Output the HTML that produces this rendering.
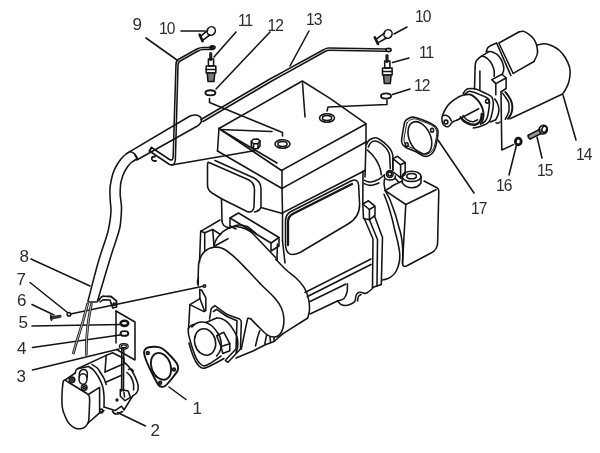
<!DOCTYPE html>
<html><head><meta charset="utf-8"><title>Engine ignition parts diagram</title>
<style>
html,body{margin:0;padding:0;background:#fff;}
body{width:600px;height:453px;overflow:hidden;}
svg{display:block;}
text{font-family:"Liberation Sans",sans-serif;font-size:17px;fill:#2a2a2a;}
</style></head><body>
<svg width="600" height="453" viewBox="0 0 600 453">
<rect width="600" height="453" fill="#fff"/>
<g id="labels" opacity="0.99">
<text transform="translate(132.5,30)">9</text>
<text transform="translate(159,34) scale(0.92,1)" letter-spacing="-1">10</text>
<text transform="translate(238,26) scale(0.92,1)" letter-spacing="-1">11</text>
<text transform="translate(267.5,31) scale(0.92,1)" letter-spacing="-1">12</text>
<text transform="translate(306,25) scale(0.92,1)" letter-spacing="-1">13</text>
<text transform="translate(415,22) scale(0.92,1)" letter-spacing="-1">10</text>
<text transform="translate(419,58) scale(0.92,1)" letter-spacing="-1">11</text>
<text transform="translate(414,91) scale(0.92,1)" letter-spacing="-1">12</text>
<text transform="translate(576,160) scale(0.92,1)" letter-spacing="-1">14</text>
<text transform="translate(537,176) scale(0.92,1)" letter-spacing="-1">15</text>
<text transform="translate(496,191) scale(0.92,1)" letter-spacing="-1">16</text>
<text transform="translate(471,214) scale(0.92,1)" letter-spacing="-1">17</text>
<text transform="translate(19.5,262)">8</text>
<text transform="translate(16.5,284.5)">7</text>
<text transform="translate(17.0,306)">6</text>
<text transform="translate(18.5,328)">5</text>
<text transform="translate(17.0,354)">4</text>
<text transform="translate(16.5,382)">3</text>
<text transform="translate(192.5,414)">1</text>
<text transform="translate(150.5,436)">2</text>
</g>
<g fill="none" stroke="#141414" stroke-width="1.55" stroke-linecap="round" stroke-linejoin="round">
<g id="leaders">
<path d="M146.0,38.0 L177.0,60.0"/>
<path d="M181.0,31.0 L205.0,31.0"/>
<path d="M236.0,32.0 L214.0,57.0"/>
<path d="M270.0,32.0 L216.0,89.0"/>
<path d="M309.0,31.0 L290.0,66.0"/>
<path d="M394.0,34.0 L407.0,27.0"/>
<path d="M392.5,62.5 L409.0,58.0"/>
<path d="M392.5,94.5 L410.0,89.0"/>
<path d="M563.0,95.0 L576.0,140.0"/>
<path d="M537.0,137.0 L542.0,158.0"/>
<path d="M516.5,145.0 L509.0,175.0"/>
<path d="M438.0,140.0 L474.0,193.0"/>
<path d="M31.0,259.0 L90.0,286.0"/>
<path d="M30.0,282.5 L67.5,312.5"/>
<path d="M32.0,304.5 L54.0,315.0"/>
<path d="M32.0,326.0 L122.0,324.5"/>
<path d="M32.5,347.5 L120.0,335.0"/>
<path d="M32.5,370.0 L119.0,349.0"/>
<path d="M169.0,387.0 L186.0,399.5"/>
<path d="M117.5,412.5 L145.5,426.0"/>
</g>
<g id="tube9">
<path d="M213,47.5 L203,47.5 Q200,47.5 197,49 L179,59 Q176,61 176,64 L173.2,156 Q173,161.5 169.5,159.5 L151.5,147.5"/>
<path d="M213,49.5 L203,49.5 Q201,49.5 198,51 L181,60.5 Q178,62 178,65 L175.4,159 Q175.2,166.5 169.5,164.5 L149.5,151"/>
<path d="M171.5,165 L255.5,150.5"/>
<path d="M155,156.5 Q151,156.5 152,159.5 Q152.8,161.5 156,160.8" stroke-width="1.8"/>
<path d="M151.5,147.5 L149.5,151" stroke-width="1.9"/>
</g>
<g id="cap10L">
<ellipse cx="211.2" cy="31" rx="4" ry="4.4" transform="rotate(30 211.2 31)"/>
<path d="M201.5,35.7 L207.6,30.3 M203.2,39.8 L209.8,35"/>
<path d="M199.6,34.6 L202.6,41.2" stroke-width="2.6"/>
</g>
<path d="M210.7,53.5 L210.7,59.5" stroke-width="3.2" stroke="#222"/>
<path d="M208.4,59.0 L213.6,59.0 L213.6,66.0 L208.4,66.0 Z"/>
<path d="M206.2,66.0 L215.8,66.0 L215.8,73.0 L206.2,73.0 Z"/>
<path d="M206.2,69.5 L215.8,69.5"/>
<path d="M207.2,73.0 L214.8,73.0 L214.0,81.5 L208.0,81.5 Z" fill="#777"/>
<ellipse cx="210.4" cy="92.8" rx="5" ry="2.6" stroke-width="1.9"/>
<path d="M209.5,98.5 L209.5,102.5 L282.5,132.5 L282.5,136"/>
<g id="rod13">
<path d="M201,119.5 L270,79 L324,49.5 Q326,48 329,48 L386,49"/>
<path d="M203,121.5 L271,81.5 L325,51.5 Q327,50.2 330,50.2 L386,51.2"/>
<ellipse cx="388.5" cy="50" rx="2.6" ry="1.6" stroke-width="1.6"/>
<ellipse cx="212.5" cy="47.5" rx="2.4" ry="1.5" stroke-width="1.8"/>
</g>
<g id="cap10R">
<ellipse cx="388" cy="34" rx="4" ry="4.4" transform="rotate(30 388 34)"/>
<path d="M377,38.6 L384.4,33.2 M378.6,42.4 L386.6,38"/>
<path d="M374.8,37.4 L378,44" stroke-width="2.6"/>
</g>
<path d="M387.0,55.5 L387.0,61.5" stroke-width="3.2" stroke="#222"/>
<path d="M384.7,61.0 L389.9,61.0 L389.9,68.0 L384.7,68.0 Z"/>
<path d="M382.5,68.0 L392.1,68.0 L392.1,75.0 L382.5,75.0 Z"/>
<path d="M382.5,71.5 L392.1,71.5"/>
<path d="M383.5,75.0 L391.1,75.0 L390.3,83.5 L384.3,83.5 Z" fill="#777"/>
<ellipse cx="386" cy="96" rx="5" ry="2.6" stroke-width="1.9"/>
<path d="M387,100 L387,104.5 L328,107 L327,111"/>
<g id="hose">
<path d="M129.8,151.6 L190,116 Q198,113.3 201.3,118.3 Q202.5,123 197,126.3 L137.7,159.5"/>
<path d="M129.8,151.6 Q135.5,152.5 137.7,159.5"/>
<path d="M135,155.5 Q137.5,157.5 136.5,160"/>
<path d="M129.8,151.6 C129.1,152.1 126.9,153.3 125.5,154.5 C124.1,155.7 122.5,157.2 121.2,158.8 C119.9,160.4 118.6,162.2 117.5,164.0 C116.4,165.8 115.4,167.6 114.6,169.4 C113.8,171.2 113.0,173.2 112.5,175.0 C112.0,176.8 111.7,177.8 111.3,180.0 C110.9,182.2 110.2,184.7 110.0,188.0 C109.8,191.3 110.0,196.2 110.2,200.0 C110.4,203.8 111.1,207.0 111.0,211.0 C110.9,215.0 110.2,220.0 109.5,224.0 C108.8,228.0 108.9,228.5 107.0,235.0 C105.1,241.5 101.2,252.0 98.0,263.0 C94.8,274.0 89.7,294.7 88.0,301.0"/>
<path d="M135.8,159.5 C135.2,159.9 133.2,161.0 132.0,162.0 C130.8,163.0 129.6,164.2 128.5,165.5 C127.4,166.8 126.4,168.5 125.5,170.0 C124.6,171.5 123.9,173.0 123.2,174.7 C122.5,176.4 122.0,178.2 121.5,180.0 C121.0,181.8 120.7,182.8 120.5,185.3 C120.3,187.8 120.0,191.4 120.2,195.0 C120.4,198.6 121.4,202.8 121.5,207.0 C121.6,211.2 121.2,216.0 120.8,220.0 C120.4,224.0 120.8,224.5 119.0,231.0 C117.2,237.5 113.6,247.3 110.0,259.0 C106.4,270.7 99.6,294.0 97.5,301.0"/>
<path d="M88,302 L97,302"/>
</g>
<g id="engine">
<path d="M219.0,128.5 L302.3,81.0 L330.0,98.3 L366.3,123.8 L281.5,170.5 Z"/>
<path d="M302.5,83 L305,117"/>
<path d="M220,129.5 L272,131.5"/>
<path d="M222,130.5 L277,163"/>
<path d="M219,128 L217.5,151"/>
<path d="M282,170 L282,188.5"/>
<path d="M366,125 L366,142"/>
<path d="M217.5,151 L282,188.5 L366,142"/>
<path d="M251.3,141.5 L253.3,139.2 L258.0,139.0 L260.0,141.0 L260.0,146.0 L258.0,148.5 L253.5,148.7 L251.3,146.5 Z"/>
<path d="M251.3,141.5 L253.5,143.7 L258,143.5 L260,141 M253.5,143.7 L253.5,148.7 M258,143.5 L258,148.5"/>
<ellipse cx="282.5" cy="144" rx="7.5" ry="4.3"/><ellipse cx="282.5" cy="144" rx="4.6" ry="2.5"/>
<ellipse cx="327" cy="118" rx="7.5" ry="4.3"/><ellipse cx="327" cy="118" rx="4.6" ry="2.5"/>
<path d="M209,162.5 L249,180 Q254.5,183 254.5,190 L254,207 Q253,213.5 247,211.5 L222,199 L212,193 Q207.5,190 207.5,185 L207.5,166 Q207.5,161.5 209,162.5 Z"/>
<path d="M215,160.5 L254,178 Q261,181.5 261,189 L261,207 Q260,211 254.5,212"/>
<path d="M221.5,199 L222,221"/>
<path d="M282,188.5 L282.5,213 L282.5,241"/>
<path d="M282.5,213 L365,170.5"/>
<path d="M261,207.5 L282.5,213.5"/>
<path d="M366,142 L365,177"/>
<path d="M285.5,221 Q285.5,214.5 291,211.5 L351,181 Q358,178 358.6,185 L359.6,204 Q360,217 348,224 L300,252.5 Q286.5,259 285.5,245 Z"/>
<path d="M288,222 Q288,216.5 293,213.8 L352,184" stroke-width="2.3"/>
<path d="M288,222 L288,245" stroke-width="2.3"/>
<path d="M230.0,218.0 L238.5,213.0 L279.0,237.5 L271.0,243.0 Z"/>
<path d="M230,218 L230,226 M271,243 L271,251 L279,246 L279,237.5"/>
<path d="M230,226 L236,229"/>
<path d="M200.7,231.3 L220,220"/>
<path d="M200.7,231.3 L199.5,262"/>
<path d="M200.7,231.3 L204.7,232.7 L212.7,229.5 L220.7,234.7"/>
<path d="M204.7,232.7 L204.7,250.5 M212.7,229.5 L214,246.5"/>
<path d="M222,221 Q222.5,225.5 226,226.8 L229.5,228"/>
<path d="M214.0,245.5 C214.4,244.4 215.1,241.1 216.7,238.7 C218.2,236.3 220.6,233.3 223.3,231.3 C226.0,229.3 229.8,227.4 232.7,226.7 C235.6,226.0 237.8,226.5 240.7,227.3 C243.6,228.1 247.1,229.4 250.0,231.3 C252.9,233.2 256.7,237.7 258.0,239.0 L276,258 "/>
<path d="M229.5,228.0 C230.9,227.5 235.1,225.2 238.0,225.0 C240.9,224.8 244.0,225.1 247.0,226.5 C250.0,227.9 254.5,232.3 256.0,233.5"/>
<path d="M276.0,259.5 C277.7,261.2 282.9,266.9 286.3,270.0 C289.7,273.1 293.3,275.3 296.3,278.3 C299.3,281.3 302.4,284.6 304.5,288.2 C306.6,291.8 307.9,296.2 308.7,299.8 C309.5,303.4 309.6,306.7 309.5,309.7 C309.4,312.7 308.1,316.6 307.8,318.0 L283,333.7"/>
<path d="M277.5,244 L277,257 Q278,261.5 276,259.5"/>
<path d="M198.3,285.0 C198.3,282.8 198.1,276.1 198.3,272.0 C198.5,267.9 198.2,264.1 199.3,260.7 C200.4,257.2 202.2,253.5 204.7,251.3 C207.1,249.1 210.9,247.7 214.0,247.3 C217.1,246.9 220.0,247.1 223.3,248.7 C226.6,250.3 230.0,253.1 234.0,256.7 C238.0,260.2 242.8,265.3 247.4,270.0 C252.0,274.7 256.9,280.3 261.5,285.0 C266.1,289.7 271.4,294.2 274.7,298.0 C278.0,301.8 279.9,304.7 281.4,308.0 C282.9,311.3 283.5,314.7 283.8,318.0 C284.1,321.3 283.7,325.2 283.0,328.0 C282.3,330.8 281.1,333.1 279.7,334.6 C278.3,336.1 276.6,336.9 274.7,337.0 C272.8,337.1 270.5,336.9 268.0,335.4 C265.5,333.9 262.7,330.8 259.8,328.0 C256.9,325.2 252.2,320.3 250.7,318.8"/>
<path d="M214.7,246 L228,238.7"/>
<circle cx="204.5" cy="286" r="1.2" stroke-width="1.4"/>
<path d="M203,286.3 L70.5,314"/>
<path d="M198.3,285 Q196.5,282 198.5,278"/>
<path d="M199.7,289.5 L199.9,298.6 L189.9,304.6 L188.6,328"/>
<path d="M199.7,289.5 L201.5,290 L205.8,297.7 L205.8,310.6 L203.9,311.6 L189.9,304.6"/>
<path d="M199.9,298.6 L204.5,311"/>
<ellipse cx="205.1" cy="342" rx="10.4" ry="13.4" transform="rotate(-14 205.1 342)"/>
<path d="M191.8,327.0 C192.5,326.4 194.5,324.3 196.0,323.5 C197.5,322.7 199.3,322.2 201.0,322.0 C202.7,321.8 204.2,321.8 206.0,322.5 C207.8,323.2 209.9,324.1 212.0,326.0 C214.1,327.9 216.9,331.5 218.4,334.0 C219.9,336.5 220.6,338.8 221.0,341.0 C221.4,343.2 221.2,345.5 221.0,347.3 C220.8,349.1 220.2,350.6 219.5,352.0 C218.8,353.4 217.1,355.3 216.6,356.0"/>
<path d="M206,322.5 L216.6,318"/>
<path d="M216.6,318.0 C217.3,318.1 219.5,318.1 221.0,318.5 C222.5,318.9 223.9,319.6 225.4,320.7 C226.9,321.8 228.5,323.2 230.0,325.0 C231.5,326.8 233.1,329.4 234.3,331.4 C235.5,333.4 236.4,335.2 237.0,337.0 C237.6,338.8 237.7,340.2 237.8,342.0 C237.9,343.8 237.8,346.2 237.5,348.0 C237.2,349.8 236.2,351.8 236.0,352.6"/>
<path d="M188.3,328.7 C188.7,328.2 189.6,326.7 190.5,326.0 C191.4,325.3 193.1,324.6 193.6,324.3"/>
<path d="M188.3,328.7 C188.3,329.3 188.3,332.7 188.5,334.0 C188.7,335.3 189.5,338.1 190.0,340.0 C190.5,341.9 192.2,347.7 193.0,350.0 C193.8,352.3 196.0,357.9 197.0,359.6 C198.0,361.4 200.7,364.3 201.6,365.0 C202.5,365.7 204.0,366.0 205.0,365.8 C206.0,365.6 208.1,364.6 210.0,363.5 C211.9,362.4 219.7,356.9 221.0,356.0"/>
<path d="M189.0,343.0 C189.3,344.2 191.2,350.8 192.0,353.0 C192.8,355.2 195.0,360.3 196.0,362.0 C197.0,363.7 199.6,366.6 200.7,367.3 C201.8,368.0 203.7,368.3 205.0,368.0 C206.3,367.7 209.8,366.1 212.0,365.0 C214.2,363.9 222.6,359.3 224.0,358.5"/>
<path d="M216.6,335.8 L223.7,332.2 L229.8,343.7 L229.8,350.8 L222.8,353.5 L221.0,346.4 Z"/>
<path d="M221,346.4 L229.8,343.7"/>
<path d="M209.5,319 L211.3,308.4 L214.8,305.7 L227.2,314.6 L239.6,319 Q241.5,320.5 241.3,322.5 L240.5,349 L228,362.3 L225.4,360.5"/>
<path d="M213.5,311.5 L216.6,309.3 L227,316.5 L237,320.7 L236,349 L226,359.5"/>
<path d="M250.7,318.8 C250.3,318.7 249.0,318.2 248.5,318.3 C248.0,318.4 248.1,317.4 247.5,319.5 C246.9,321.6 246.0,326.1 245.0,331.0 C244.0,335.9 241.9,346.0 241.3,349.0"/>
<path d="M259.8,330.5 Q257,338 255.5,346"/>
<path d="M266.5,335.4 L264.8,344 M270,337 L270.5,342.5 M274,337.5 L274,341"/>
<path d="M236,358 L253,351 L264.8,345 L274,341.5 L283,333.7"/>
<path d="M305,292.5 L371,259"/>
<path d="M307.5,296.5 L371,264.5" stroke-width="1.7"/>
<path d="M310,301.5 L346,284"/>
<path d="M310,314 L337.5,301"/>
<path d="M347.5,284.0 C347.4,285.3 347.6,289.6 347.0,292.0 C346.4,294.4 345.6,297.0 344.0,298.5 C342.4,300.0 338.6,300.6 337.5,301.0"/>
<path d="M337.5,301.0 C337.9,301.4 340.0,304.0 341.0,304.5 C342.0,305.0 344.7,305.6 346.0,305.5 C347.3,305.4 350.9,304.0 352.0,303.5 C353.1,303.0 354.5,301.9 355.0,301.0 C355.5,300.1 355.6,296.5 356.0,295.5 C356.4,294.5 357.8,292.9 358.5,292.5 C359.2,292.1 361.2,292.4 362.0,292.5 C362.8,292.6 364.4,293.5 365.0,293.5 C365.6,293.5 366.6,293.1 367.5,292.5 C368.4,291.9 371.9,289.0 372.5,288.5"/>
<path d="M357.5,301.0 C357.7,300.2 357.9,297.6 358.5,296.5 C359.1,295.4 360.6,294.8 361.0,294.5"/>
<path d="M362.8,204.0 L369.4,209.5 L369.4,219.8 L363.5,218.4 Z"/>
<path d="M362.8,204 L368.5,200.8 L375,206.2 L369.4,209.5 M375,206.2 L375,215.3 L369.4,219.8"/>
<path d="M364.5,219 L373,239 L372.5,287.5"/>
<path d="M374.5,216 L382.5,237.5 L381.3,284.5"/>
<path d="M369.5,220 L377.5,239.5 L377,286"/>
<path d="M372.5,287.5 L381.3,284.5"/>
<path d="M363,171 L362.8,204"/>
<path d="M385.2,190.6 C385.8,191.8 387.8,194.9 389.0,197.5 C390.2,200.1 391.4,203.3 392.5,206.4 C393.6,209.5 394.8,212.8 395.8,216.0 C396.8,219.2 397.7,222.8 398.5,225.8 C399.3,228.8 400.2,231.2 400.8,234.0 C401.4,236.8 401.9,239.6 402.2,242.8 C402.5,246.0 402.8,249.6 402.8,253.0 C402.9,256.4 402.6,261.7 402.5,263.4"/>
<path d="M384.0,194.3 C384.5,195.6 386.0,199.2 387.0,202.0 C388.0,204.8 389.1,208.1 390.0,211.3 C390.9,214.5 391.9,217.8 392.7,221.0 C393.5,224.2 394.1,227.4 394.9,230.7 C395.7,234.0 396.7,237.4 397.5,241.0 C398.3,244.6 399.3,249.0 399.6,252.5 C399.9,256.0 399.9,258.8 399.3,262.0 C398.7,265.2 397.3,269.1 396.0,271.5 C394.7,273.9 393.1,275.2 391.5,276.5 C389.9,277.8 387.9,278.4 386.4,279.0 C384.9,279.6 383.1,279.8 382.5,280.0"/>
<path d="M385.2,190.6 L405.8,204.5 L436.0,189.8"/>
<path d="M405.8,204.5 L402.5,263.4 Q402.8,267.5 406.5,266 L431,253 Q437.3,250 437.6,243 L438.8,191.5 Q438.8,188.5 436,187.3 L424,181"/>
<path d="M385.2,190.6 L392,186.5"/>
<ellipse cx="411.6" cy="176.4" rx="9.5" ry="5.2"/><ellipse cx="411.6" cy="176.2" rx="4.8" ry="2.6"/>
<path d="M402.1,176.5 L402.3,183 Q406,187.8 412,187.8 Q418,187.5 421,183 L421.1,176.5"/>
<path d="M366.6,144.5 C366.8,144.0 367.4,142.4 368.0,141.5 C368.6,140.6 369.3,139.9 370.5,139.3 C371.7,138.7 373.7,137.8 375.1,137.7 C376.5,137.6 377.7,138.3 379.0,139.0 C380.3,139.7 381.6,140.6 382.8,141.6 C384.1,142.6 385.3,143.7 386.5,144.8 C387.7,146.0 388.9,147.3 389.8,148.5 C390.7,149.7 391.3,150.8 391.8,152.0 C392.3,153.2 392.7,154.9 392.9,155.5 L392.9,170"/>
<path d="M368.3,147.0 C368.8,146.2 369.9,143.5 371.0,142.5 C372.1,141.5 373.4,140.9 375.0,141.0 C376.6,141.1 378.9,142.2 380.5,143.1 C382.1,144.0 383.3,145.3 384.5,146.5 C385.7,147.7 386.7,148.8 387.5,150.1 C388.3,151.3 388.9,152.7 389.3,154.0 C389.7,155.3 389.7,157.2 389.8,157.8 L390.3,168.5"/>
<path d="M367.4,150.1 C367.9,150.6 369.5,152.0 370.5,153.0 C371.5,154.0 372.5,155.1 373.5,156.3 C374.5,157.6 375.6,159.0 376.5,160.5 C377.4,162.0 378.3,163.9 379.0,165.5 C379.7,167.1 380.1,168.4 380.5,170.0 C380.9,171.6 381.2,174.0 381.3,174.8"/>
<path d="M364.3,180.2 C364.9,180.5 366.7,181.5 368.0,181.8 C369.3,182.1 370.7,182.0 372.0,181.8 C373.3,181.6 374.7,181.0 376.0,180.5 C377.3,180.0 378.3,179.6 379.7,178.7 C381.1,177.8 383.6,175.5 384.4,174.8"/>
<path d="M364.0,183.5 C364.8,183.8 367.3,185.1 369.0,185.3 C370.7,185.5 372.3,185.2 374.0,184.8 C375.7,184.4 378.2,183.3 379.0,183.0"/>
<path d="M392.9,158.6 L397.5,156.3 L405.2,162.5 L400.6,164.8 Z"/>
<path d="M392.9,158.6 L392.9,170.5 M400.6,164.8 L400.6,177.9 L405.2,174.5 L405.2,162.5"/>
<path d="M394,172.5 L400.6,177.9"/>
<circle cx="389.8" cy="174" r="1.9"/><circle cx="389.8" cy="174" r="3.4"/>
<path d="M384.3,175.5 C384.4,176.0 384.1,177.8 385.0,178.5 C385.9,179.2 387.9,179.9 389.5,180.0 C391.1,180.1 393.5,179.5 394.5,178.8 C395.5,178.1 395.2,176.5 395.3,176.0"/>
<path d="M384.4,179.5 Q383.3,184 385,189.5 M395.3,178.5 L399,182.5 L392,186"/>
<path d="M399,182.5 L402.5,181"/>
<path d="M282.5,241 L285,263"/>
</g>
<g id="flange17">
<path d="M404.9,121.6 C405.7,119.8 407.7,118.8 408.9,118.2 C410.1,117.6 412.5,117.0 414.2,117.2 C415.9,117.4 419.3,118.8 421.5,119.6 C423.7,120.4 428.9,122.5 430.8,123.5 C432.7,124.5 435.0,125.8 436.0,126.9 C437.0,128.0 437.8,130.0 438.0,131.5 C438.2,133.0 437.7,136.0 437.4,138.1 C437.1,140.2 436.0,145.5 435.4,147.4 C434.8,149.3 433.7,151.6 432.7,152.7 C431.7,153.8 429.3,155.6 428.1,156.0 C426.9,156.4 425.3,156.6 423.5,156.0 C421.7,155.4 417.3,152.5 414.9,151.4 C412.5,150.3 407.3,148.4 405.6,147.4 C403.9,146.4 402.8,145.0 402.3,144.0 C401.8,143.0 401.5,141.7 401.6,140.0 C401.7,138.3 402.5,134.0 402.9,131.5 C403.3,129.0 404.1,123.4 404.9,121.6 Z"/>
<path d="M407.0,122.9 C407.7,121.3 409.5,120.3 410.6,119.8 C411.7,119.3 413.9,118.7 415.4,118.9 C416.9,119.1 419.9,120.3 421.9,121.1 C423.9,121.8 428.6,123.7 430.3,124.6 C432.1,125.5 434.1,126.7 435.0,127.6 C435.9,128.6 436.6,130.4 436.8,131.8 C437.0,133.1 436.6,135.8 436.2,137.7 C435.9,139.6 435.0,144.3 434.4,146.1 C433.9,147.8 432.9,149.8 432.0,150.9 C431.1,151.9 429.0,153.4 427.9,153.8 C426.8,154.2 425.3,154.4 423.7,153.8 C422.2,153.3 418.1,150.7 416.0,149.7 C413.9,148.7 409.1,147.0 407.6,146.1 C406.1,145.2 405.1,143.9 404.7,143.0 C404.2,142.1 404.0,140.9 404.0,139.4 C404.1,137.9 404.8,134.0 405.2,131.8 C405.6,129.6 406.3,124.5 407.0,122.9 Z" stroke-width="1.0"/>
<ellipse cx="419.9" cy="137.8" rx="10.6" ry="17" transform="rotate(-24 419.9 137.8)"/>
<ellipse cx="432.1" cy="130.2" rx="1.5" ry="2"/><ellipse cx="406.7" cy="144.7" rx="1.5" ry="2"/>
</g>
<g id="starter">
<path d="M496.6,43.0 C495.7,43.4 492.5,44.7 491.0,45.5 C489.5,46.3 488.6,46.8 487.8,47.8 C487.0,48.8 486.6,51.1 486.3,51.8"/>
<path d="M496.6,43 L510.9,75.6"/>
<path d="M499,43.5 L513.2,73.5"/>
<path d="M498.9,43 L518.8,32 "/>
<path d="M518.8,32.0 C519.5,31.9 521.5,31.1 523.0,31.3 C524.5,31.5 525.8,32.2 527.5,33.3 C529.2,34.4 531.5,36.2 533.0,38.0 C534.5,39.8 535.5,41.5 536.3,44.0 C537.0,46.5 537.9,50.1 537.5,53.0 C537.1,55.9 534.6,60.1 534.0,61.5"/>
<path d="M534,61.5 L513.2,73.3"/>
<path d="M537.0,45.0 C538.3,44.8 542.4,43.6 545.0,43.8 C547.6,44.0 550.0,44.8 552.5,46.0 C555.0,47.2 557.8,49.0 560.0,51.0 C562.2,53.0 563.9,55.3 565.5,58.0 C567.1,60.7 568.8,64.2 569.5,67.0 C570.2,69.8 570.2,72.3 570.0,75.0 C569.8,77.7 569.2,80.6 568.5,83.0 C567.8,85.4 566.5,87.7 565.5,89.5 C564.5,91.3 563.0,93.2 562.5,94.0"/>
<path d="M562.5,94 L510,118.8"/>
<path d="M505.3,92.0 C505.9,92.8 507.7,95.0 508.7,96.5 C509.7,98.0 510.7,99.7 511.3,101.3 C511.9,102.9 512.2,104.4 512.3,106.0 C512.4,107.6 512.3,109.2 512.0,110.7 C511.7,112.2 511.2,113.7 510.5,115.0 C509.8,116.3 508.4,118.1 508.0,118.7" stroke-width="2"/>
<path d="M502.7,93.3 C503.2,94.1 505.0,96.4 506.0,98.0 C507.0,99.6 508.2,101.0 508.7,102.7 C509.2,104.4 509.0,106.5 509.0,108.0 C509.0,109.5 509.3,110.1 508.7,112.0 C508.1,113.9 505.9,118.1 505.3,119.3"/>
<path d="M494.7,98.8 C495.2,99.6 496.8,101.8 497.5,103.5 C498.2,105.2 498.8,107.4 498.9,109.3 C499.0,111.2 498.5,113.3 498.0,115.0 C497.5,116.7 496.1,118.9 495.7,119.7"/>
<path d="M495.7,119.7 L490.5,122"/>
<path d="M475.1,67.7 C475.2,66.9 475.2,64.2 475.5,63.0 C475.8,61.8 475.8,61.6 476.7,60.5 C477.6,59.4 479.4,57.2 480.7,56.6 C482.0,56.0 483.2,56.3 484.5,56.8 C485.8,57.3 487.4,58.6 488.6,59.7 C489.8,60.8 490.7,62.2 491.5,63.5 C492.3,64.8 492.9,66.4 493.4,67.7 C493.8,69.0 494.1,70.0 494.2,71.5 C494.3,73.0 494.2,75.7 494.2,76.5"/>
<path d="M480.7,56.6 L488.6,51.8"/>
<path d="M486.3,51.8 C486.9,51.8 488.8,51.5 490.0,51.6 C491.2,51.7 492.3,52.0 493.5,52.5 C494.7,53.0 496.3,53.7 497.4,54.6 C498.5,55.5 499.2,56.6 500.0,57.8 C500.8,58.9 501.5,60.1 502.1,61.5 C502.7,62.9 503.2,64.6 503.5,66.0 C503.8,67.4 503.9,68.6 503.7,70.0 C503.5,71.4 502.5,73.6 502.3,74.3"/>
<path d="M475.1,67.7 L474.5,89"/>
<path d="M479.9,70.9 L479.9,89.5"/>
<path d="M491.8,79.6 L502.1,74.3 L506.1,78.0 L495.8,83.6 Z"/>
<path d="M495.8,83.6 L495.8,94.7 M506.1,78 L506.1,88.5 L501,92"/>
<path d="M501,92 L501.8,150 L513.5,144.6"/>
<path d="M463.3,93.3 C463.6,92.9 464.7,91.1 465.3,90.5 C465.9,89.9 466.7,88.9 468.0,88.7 C469.3,88.5 473.1,88.4 474.7,88.7 C476.3,89.0 478.6,90.1 480.0,90.7 C481.4,91.3 484.1,92.7 485.3,93.3 C486.5,93.9 488.1,94.5 489.0,95.0 C489.9,95.5 491.4,96.3 492.0,97.3 C492.6,98.3 493.2,101.3 493.3,102.7 C493.4,104.1 493.2,106.6 493.0,108.0 C492.8,109.4 492.3,112.0 492.0,113.3 C491.7,114.6 491.4,116.4 491.0,117.5 C490.6,118.6 489.9,120.5 489.3,121.3 C488.7,122.1 487.3,123.3 486.5,123.8 C485.7,124.3 484.4,124.9 483.3,125.3 C482.2,125.7 479.8,126.6 478.5,127.0 C477.2,127.4 474.0,127.9 473.3,128.0"/>
<path d="M464.7,94.7 C465.0,94.4 466.3,92.8 467.0,92.3 C467.7,91.8 468.8,91.2 470.0,91.3 C471.2,91.4 474.5,92.5 476.0,93.0 C477.5,93.5 480.0,94.8 481.3,95.3 C482.6,95.8 484.5,96.5 485.5,97.0 C486.5,97.5 488.2,98.6 488.7,99.3 C489.2,100.0 489.4,101.2 489.5,102.0 C489.6,102.8 489.4,104.0 489.3,105.3 C489.2,106.6 488.8,109.9 488.5,111.5 C488.2,113.1 487.7,116.1 487.3,117.3 C486.9,118.5 486.1,120.0 485.5,120.8 C484.9,121.6 483.1,123.0 482.7,123.3"/>
<path d="M466.0,94.5 C466.8,94.5 469.2,94.2 470.7,94.7 C472.2,95.2 473.7,96.4 475.0,97.5 C476.3,98.6 477.7,100.0 478.7,101.3 C479.7,102.5 480.3,103.7 481.0,105.0 C481.7,106.3 482.3,107.9 482.7,109.3 C483.1,110.7 483.4,112.2 483.5,113.5 C483.6,114.8 483.5,116.0 483.3,117.3 C483.1,118.5 482.7,119.9 482.3,121.0 C481.9,122.1 481.0,123.5 480.7,124.0" stroke-width="1.9"/>
<path d="M463.3,93.3 L464.7,94.7"/>
<circle cx="487.3" cy="101.3" r="1.8"/>
<path d="M460.7,117.3 C461.1,117.8 462.3,119.6 463.3,120.5 C464.3,121.4 465.5,122.1 466.7,122.7 C467.9,123.3 469.2,124.0 470.5,124.3 C471.8,124.6 473.5,124.8 474.7,124.7 C475.9,124.6 476.8,124.1 477.7,123.5 C478.6,122.9 479.4,122.2 480.0,121.3 C480.6,120.4 481.0,119.2 481.3,118.0 C481.6,116.8 481.7,114.7 481.8,114.0" stroke-width="2.4"/>
<path d="M463.0,115.5 C463.5,116.1 464.8,118.0 466.0,119.0 C467.2,120.0 468.7,120.9 470.0,121.3 C471.3,121.7 472.8,121.8 474.0,121.5 C475.2,121.2 476.9,120.1 477.5,119.8"/>
<path d="M464.7,94.7 C463.9,95.0 461.4,95.6 460.0,96.3 C458.6,97.0 457.4,97.8 456.0,98.7 C454.6,99.6 453.0,100.6 451.7,101.7 C450.4,102.8 449.1,103.9 448.0,105.3 C446.9,106.7 445.9,108.4 445.0,110.0 C444.1,111.6 443.2,113.5 442.7,114.7 C442.2,116.0 442.1,116.6 442.0,117.5 C441.9,118.4 441.9,119.1 442.0,120.0 C442.1,120.9 442.2,122.1 442.5,123.0 C442.8,123.9 443.4,124.7 444.0,125.3 C444.6,125.9 445.3,126.3 446.0,126.5 C446.7,126.7 447.3,126.9 448.0,126.7 C448.7,126.5 449.4,125.9 450.0,125.3 C450.6,124.7 450.6,124.0 451.3,123.3 C452.0,122.6 453.0,121.8 454.0,121.3 C455.0,120.8 456.8,120.2 457.3,120.0"/>
<path d="M457.3,120 L478.7,108.7"/>
<circle cx="446" cy="122" r="1.9"/>
<path d="M442.7,115.5 C443.2,115.5 444.9,115.0 446.0,115.3 C447.1,115.6 448.6,116.5 449.5,117.5 C450.4,118.5 451.0,120.4 451.3,121.0"/>
<path d="M496.0,122.7 C496.3,122.8 497.3,123.4 498.0,123.3 C498.7,123.2 499.7,122.2 500.0,122.0"/>
</g>
<g id="nut16">
<ellipse cx="518.3" cy="141.5" rx="2.9" ry="3.3" stroke-width="2.8"/>
</g>
<g id="bolt15">
<path d="M529.3,137 L540,131.3" stroke-width="3.2" stroke="#999"/>
<path d="M528.3,135.3 L540,129.2 M530.3,139 L541.5,133.2"/>
<path d="M528.3,135.3 Q527.5,137.5 530.3,139"/>
<path d="M539.5,127.8 C540.1,126.9 541.9,125.6 543.0,125.3 C544.1,125.0 545.3,125.4 546.0,126.0 C546.7,126.6 547.2,128.0 547.3,129.0 C547.4,130.1 547.1,131.5 546.5,132.3 C545.9,133.1 544.4,133.8 543.5,134.0 C542.6,134.2 541.7,133.9 541.0,133.3 C540.3,132.7 539.5,131.4 539.3,130.5 C539.0,129.6 538.9,128.7 539.5,127.8 Z"/>
<ellipse cx="544.3" cy="129.2" rx="2.3" ry="3.2" transform="rotate(20 544.3 129.2)"/>
</g>
<g id="leftparts">
<path d="M51.5,317.8 L60,316.3" stroke-width="3.2" stroke="#333"/>
<path d="M50.8,315.5 L51.5,320" stroke-width="1.8"/>
<circle cx="69" cy="314.2" r="1.8"/>
<path d="M87.6,304.0 C86.9,306.7 84.8,314.6 83.2,320.3 C81.6,326.0 79.4,332.6 77.8,338.0 C76.2,343.4 74.1,350.5 73.4,353.0" stroke-width="2.7" stroke="#1c1c1c"/>
<path d="M91.4,304.0 C90.9,306.7 89.3,314.6 88.5,320.3 C87.7,326.0 87.1,332.3 86.7,338.0 C86.3,343.7 86.4,351.8 86.3,354.5" stroke-width="2.7" stroke="#1c1c1c"/>
<path d="M87.6,304.0 C86.9,306.7 84.8,314.6 83.2,320.3 C81.6,326.0 79.4,332.6 77.8,338.0 C76.2,343.4 74.1,350.5 73.4,353.0" stroke-width="0.7" stroke="#fff"/>
<path d="M91.4,304.0 C90.9,306.7 89.3,314.6 88.5,320.3 C87.7,326.0 87.1,332.3 86.7,338.0 C86.3,343.7 86.4,351.8 86.3,354.5" stroke-width="0.7" stroke="#fff"/>
<path d="M98.5,300.5 L101,297.5 Q102,296 104,296.2 L111,296.5 L116.5,300.9 L116.5,307 L112.9,308 L111.2,303.5" stroke-width="1.8"/>
<path d="M100,301.8 L103.5,299.7 L110,300 L111.2,303.5"/>
<circle cx="114.2" cy="304" r="1.1"/>
<path d="M116,311 L135,322 L135,360 L116.5,349.5"/>
<path d="M116,311 L116,343"/>
<ellipse cx="124.4" cy="323.3" rx="3.8" ry="2.6" stroke-width="2.6"/>
<ellipse cx="124.4" cy="333.5" rx="3.9" ry="2.4" stroke-width="1.9"/>
<ellipse cx="123.8" cy="346.3" rx="4.4" ry="2.7" stroke-width="1.3"/><ellipse cx="123.8" cy="346.3" rx="2.6" ry="1.4" stroke-width="1.2"/>
<path d="M121.8,349 L121.6,391 M123.7,349 L123.5,391"/>
<path d="M63.2,381.5 C63.6,379.8 64.4,380.2 65.0,380.3 C65.6,380.4 65.4,380.4 68.0,382.0 C70.6,383.6 84.9,392.1 87.4,394.0 C89.9,395.9 89.4,396.6 89.6,398.5 C89.8,400.4 89.4,407.3 89.3,410.0 C89.2,412.7 88.9,419.7 88.5,421.6 C88.1,423.5 86.8,425.2 86.0,426.0 C85.2,426.8 83.2,428.1 82.0,428.4 C80.8,428.7 76.7,428.7 75.3,428.2 C73.9,427.7 71.0,425.5 70.0,424.5 C69.0,423.5 67.4,421.3 66.5,419.4 C65.6,417.5 63.0,411.2 62.5,408.4 C62.0,405.6 61.9,398.1 62.0,395.0 C62.1,391.9 62.9,383.2 63.2,381.5 Z"/>
<path d="M64.5,380.3 L75.3,373"/>
<path d="M88.3,394.5 L99.6,387.4 L99.6,412.8 L87.5,423.5"/>
<path d="M75.3,373 Q75.3,370 77.5,368.7 L106.2,355.4"/>
<path d="M88.5,366.5 C89.3,367.1 92.0,368.5 93.5,370.0 C95.0,371.5 96.2,373.5 97.4,375.3 C98.6,377.1 99.6,379.0 100.5,381.0 C101.4,383.0 102.3,384.9 102.9,387.4 C103.5,389.9 103.8,392.7 104.0,396.0 C104.2,399.3 104.0,405.2 104.0,407.0"/>
<path d="M92.0,364.5 C92.8,365.1 95.5,366.4 97.0,367.8 C98.5,369.2 99.5,371.2 100.7,373.0 C101.9,374.8 103.1,376.6 104.0,378.5 C104.9,380.4 105.8,383.5 106.2,384.5"/>
<path d="M77.5,368.7 L88.5,366.5"/>
<ellipse cx="83" cy="379" rx="4" ry="5.2"/>
<path d="M79.2,377.0 C79.3,376.2 79.1,373.2 79.8,372.0 C80.5,370.8 82.3,369.6 83.5,369.5 C84.7,369.4 86.4,370.2 87.0,371.5 C87.6,372.8 87.2,376.5 87.2,377.5"/>
<path d="M106.2,355.4 L112.5,352.8 L124,358.5 L123.8,364.3 M106.2,355.4 L105,372"/>
<path d="M105,372 L122.7,364.3 M106.2,382 L121.6,375.3"/>
<path d="M124.5,362.5 C125.1,363.1 126.9,364.6 128.2,366.0 C129.4,367.4 130.9,369.3 132.0,371.0 C133.1,372.7 134.0,374.4 134.9,376.4 C135.8,378.4 136.9,381.0 137.5,383.0 C138.1,385.0 138.4,386.8 138.2,388.5 C138.0,390.2 137.4,391.8 136.5,393.0 C135.6,394.2 133.2,395.5 132.6,396.0"/>
<path d="M128.5,369.5 Q131,367.5 133.3,371"/>
<path d="M127.0,372.5 C127.7,373.2 129.9,375.1 131.0,377.0 C132.1,378.9 133.1,381.8 133.5,384.0 C133.9,386.2 133.5,389.0 133.5,390.0"/>
<path d="M120.3,389.6 L128.2,391.0 L130.4,397.4 L125.0,400.7 L120.3,396.3 Z"/>
<path d="M124,392.5 L124.5,397"/>
<path d="M104,407 L115,410.6 L121.6,406.2 L124,410 L132.6,396"/>
<path d="M99.6,412.8 L104,410.5"/>
<path d="M112.5,411 Q113.5,414.5 117.5,414 L122.5,411.5"/>
<circle cx="117" cy="400" r="0.9"/>
<circle cx="72" cy="379.8" r="2.8"/><circle cx="72" cy="379.8" r="1.2"/>
<circle cx="84.2" cy="387.6" r="2.8"/><circle cx="84.2" cy="387.6" r="1.2"/>
<ellipse cx="101.3" cy="411" rx="1.6" ry="2"/>
<path d="M144.0,352.5 C143.9,351.0 144.8,349.7 145.5,349.0 C146.2,348.3 147.7,347.6 149.0,347.3 C150.3,347.0 153.4,346.7 155.0,346.8 C156.6,346.9 159.5,347.2 161.0,347.8 C162.5,348.4 164.6,350.3 166.0,351.5 C167.4,352.7 170.1,355.5 171.5,357.0 C172.9,358.5 175.6,361.7 176.5,363.0 C177.4,364.3 177.9,365.9 178.0,367.0 C178.1,368.1 178.1,369.7 177.5,371.0 C176.9,372.3 174.6,375.0 173.5,376.5 C172.4,378.0 170.1,380.7 169.0,382.0 C167.9,383.3 166.0,385.4 165.0,386.0 C164.0,386.6 162.4,386.9 161.5,386.8 C160.6,386.7 159.4,386.0 158.5,385.0 C157.6,384.0 156.1,381.1 155.0,379.0 C153.9,376.9 151.2,371.5 150.0,369.0 C148.8,366.5 146.8,362.2 146.0,360.0 C145.2,357.8 144.1,354.0 144.0,352.5 Z" stroke-width="1.9"/>
<ellipse cx="161" cy="366.3" rx="9.6" ry="13.8" transform="rotate(-20 161 366.3)" stroke-width="1.9"/>
<circle cx="147.8" cy="353" r="1.3" stroke-width="1.8"/><circle cx="174" cy="369.5" r="1.3" stroke-width="1.8"/><circle cx="160.2" cy="382.8" r="1.3" stroke-width="1.8"/>
</g>
</g>
</svg>
</body></html>
